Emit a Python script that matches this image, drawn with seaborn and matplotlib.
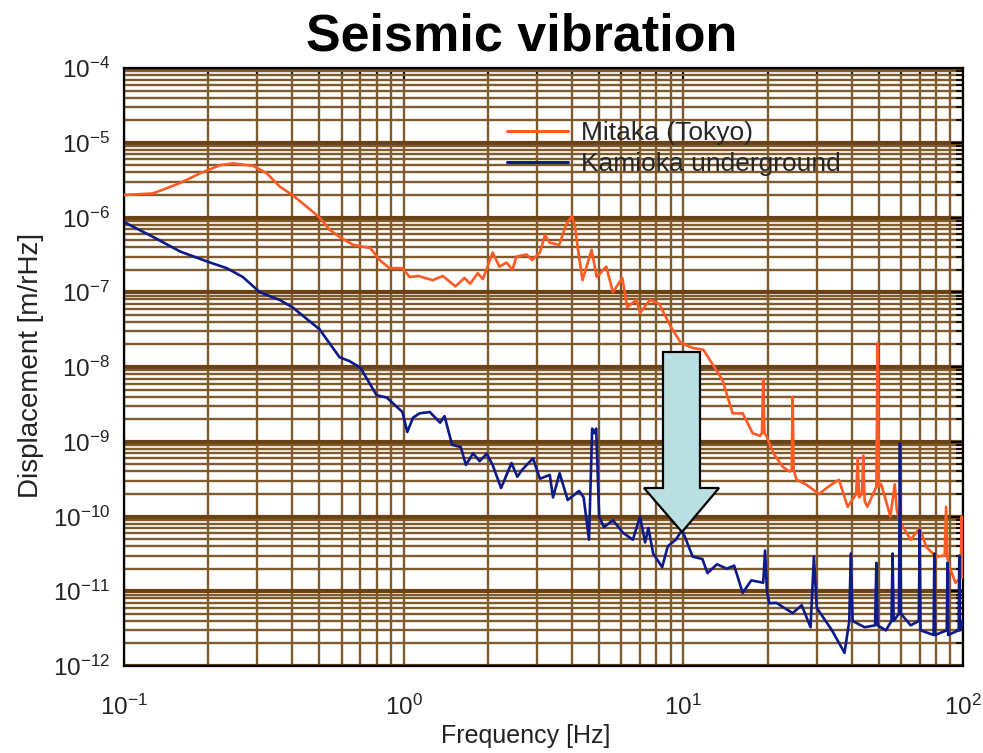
import numpy as np
import pandas as pd
import matplotlib
matplotlib.use("Agg")
import matplotlib.pyplot as plt
from matplotlib.ticker import LogLocator, NullFormatter, LogFormatterSciNotation, FixedLocator
from matplotlib.patches import Polygon
import seaborn as sns

# ---------------- data ----------------
mitaka_f = [0.1, 0.127, 0.159, 0.187, 0.22, 0.245, 0.29, 0.324, 0.36, 0.40,
            0.45, 0.50, 0.545, 0.59, 0.66, 0.76, 0.82, 0.89, 0.99, 1.05,
            1.13, 1.27, 1.38, 1.53, 1.65, 1.73, 1.84, 1.92, 2.08, 2.20,
            2.33, 2.45, 2.53, 2.75, 2.88, 3.07, 3.2, 3.33, 3.6, 3.8,
            4.0, 4.1, 4.2, 4.36, 4.7, 4.9, 5.3, 5.6, 6.05, 6.3,
            6.8, 7.0, 7.6, 8.2, 9.0, 9.8, 10.8, 11.8, 12.7, 13.8,
            15.0, 16.3, 17.7, 18.8, 19.1, 19.3, 19.5, 19.8, 21.0, 22.7,
            24.0, 24.4, 24.6, 24.8, 25.4, 27.4, 30.6, 32.5, 34.0, 36.0,
            38.7, 41.5, 42.0, 42.5, 43.5, 44.0, 44.5, 45.5, 49.0, 49.5,
            50.0, 51.0, 55.0, 57.0, 58.0, 59.5, 65.0, 70.0, 74.0, 80.0,
            86.0, 87.0, 88.0, 89.5, 94.0, 98.0, 99.0, 100.0]
mitaka_v = [2.0e-6, 2.1e-6, 2.9e-6, 3.9e-6, 5.0e-6, 5.3e-6, 4.9e-6, 3.9e-6, 2.6e-6, 2.0e-6,
            1.4e-6, 1.0e-6, 6.8e-7, 5.5e-7, 4.3e-7, 3.9e-7, 2.7e-7, 2.1e-7, 2.1e-7, 1.6e-7,
            1.65e-7, 1.45e-7, 1.65e-7, 1.2e-7, 1.55e-7, 1.3e-7, 1.8e-7, 1.5e-7, 3.4e-7, 2.2e-7,
            2.5e-7, 2.0e-7, 3.0e-7, 3.2e-7, 2.7e-7, 3.4e-7, 5.8e-7, 4.6e-7, 4.3e-7, 7.9e-7,
            1.05e-6, 7.5e-7, 3.7e-7, 1.45e-7, 3.7e-7, 1.6e-7, 2.2e-7, 1.0e-7, 1.55e-7, 6.3e-8,
            7.9e-8, 5.3e-8, 7.9e-8, 7.0e-8, 3.5e-8, 2.1e-8, 1.8e-8, 1.7e-8, 1.1e-8, 6.7e-9,
            2.4e-9, 2.4e-9, 1.3e-9, 1.2e-9, 1.3e-9, 6.9e-9, 1.3e-9, 1.2e-9, 7.0e-10, 4.6e-10,
            4.0e-10, 4.2e-10, 4.0e-9, 4.2e-10, 3.1e-10, 2.7e-10, 2.0e-10, 2.4e-10, 2.7e-10, 3.1e-10,
            1.35e-10, 2.0e-10, 6.0e-10, 1.8e-10, 2.0e-10, 6.5e-10, 1.6e-10, 1.35e-10, 2.5e-10, 2.1e-8,
            2.5e-10, 2.7e-10, 1.0e-10, 2.7e-10, 1.2e-10, 8.5e-11, 4.9e-11, 7.0e-11, 3.9e-11, 2.9e-11,
            3.0e-11, 1.35e-10, 2.8e-11, 2.1e-11, 1.3e-11, 1.5e-11, 1.0e-10, 1.5e-11]

kamioka_f = [0.1, 0.127, 0.159, 0.203, 0.233, 0.266, 0.306, 0.36, 0.40, 0.50,
             0.59, 0.64, 0.70, 0.80, 0.87, 0.99, 1.03, 1.08, 1.14, 1.24,
             1.35, 1.40, 1.49, 1.60, 1.67, 1.77, 1.87, 1.98, 2.08, 2.23,
             2.43, 2.55, 2.65, 2.90, 3.07, 3.33, 3.42, 3.61, 3.86, 4.24,
             4.40, 4.60, 4.72, 4.80, 4.88, 5.0, 5.2, 5.6, 6.1, 6.6,
             7.0, 7.3, 7.5, 7.8, 8.4, 8.8, 9.4, 9.9, 10.2, 10.8,
             11.7, 12.2, 13.2, 14.3, 15.2, 16.3, 17.5, 19.3, 19.6, 19.9,
             20.3, 21.5, 24.6, 26.5, 28.5, 29.3, 30.0, 34.0, 37.7, 39.2,
             39.7, 40.3, 44.5, 48.5, 49.0, 49.5, 53.0, 55.5, 56.0, 56.5,
             59.0, 59.5, 60.0, 65.0, 69.5, 70.0, 70.5, 78.5, 79.0, 79.5,
             87.5, 88.0, 88.5, 96.5, 97.0, 97.5, 100.0]
kamioka_v = [8.7e-7, 5.5e-7, 3.5e-7, 2.5e-7, 2.1e-7, 1.6e-7, 1.0e-7, 7.9e-8, 6.3e-8, 3.2e-8,
             1.35e-8, 1.2e-8, 9.8e-9, 4.2e-9, 3.9e-9, 2.5e-9, 1.35e-9, 2.1e-9, 2.4e-9, 2.5e-9,
             1.8e-9, 2.2e-9, 9.1e-10, 8.5e-10, 4.9e-10, 7.0e-10, 5.5e-10, 6.9e-10, 4.9e-10, 2.4e-10,
             5.2e-10, 3.4e-10, 4.2e-10, 6.0e-10, 3.2e-10, 3.6e-10, 1.8e-10, 3.8e-10, 1.66e-10, 2.2e-10,
             1.8e-10, 4.9e-11, 1.5e-9, 1.3e-9, 1.5e-9, 1.0e-10, 7.2e-11, 8.9e-11, 6.0e-11, 4.9e-11,
             1.0e-10, 4.5e-11, 7.0e-11, 3.2e-11, 2.1e-11, 4.0e-11, 4.9e-11, 6.6e-11, 5.0e-11, 2.9e-11,
             2.7e-11, 1.75e-11, 2.3e-11, 2.0e-11, 2.2e-11, 9.5e-12, 1.4e-11, 1.3e-11, 3.5e-11, 1.0e-11,
             6.9e-12, 7.0e-12, 5.1e-12, 6.5e-12, 3.3e-12, 2.9e-11, 6.0e-12, 3.0e-12, 1.5e-12, 4.0e-12,
             3.2e-11, 4.0e-12, 3.3e-12, 3.5e-12, 2.4e-11, 3.5e-12, 3.0e-12, 4.0e-12, 3.2e-11, 4.0e-12,
             5.0e-12, 9.6e-10, 5.0e-12, 3.5e-12, 4.0e-12, 6.6e-11, 3.0e-12, 2.6e-12, 3.2e-11, 2.6e-12,
             3.0e-12, 2.4e-11, 2.6e-12, 3.0e-12, 3.0e-11, 3.0e-12, 4.0e-12]

x_decades = [0.1, 1, 10, 100]
y_decades = [1e-12, 1e-11, 1e-10, 1e-9, 1e-8, 1e-7, 1e-6, 1e-5, 1e-4]

series_names = ["Mitaka (Tokyo)", "Kamioka underground"]
series_colors = ["#ff5a23", "#0d1a8a"]

title_text = "Seismic vibration"
x_label = "Frequency [Hz]"
y_label = "Displacement [m/rHz]"

# ---------------- style ----------------
sns.set_style("white")
plt.rcParams["font.family"] = ["Liberation Sans", "DejaVu Sans"]
plt.rcParams["mathtext.default"] = "regular"
plt.rcParams["axes.unicode_minus"] = False

df = pd.concat([
    pd.DataFrame({"freq": mitaka_f, "disp": mitaka_v, "site": series_names[0]}),
    pd.DataFrame({"freq": kamioka_f, "disp": kamioka_v, "site": series_names[1]}),
], ignore_index=True)

fig = plt.figure(figsize=(9.83, 7.53), dpi=100)
ax = fig.add_axes([124 / 983, 1 - 666 / 753, (963 - 124) / 983, (666 - 68) / 753])

sns.lineplot(data=df, x="freq", y="disp", hue="site", hue_order=series_names,
             palette=series_colors, estimator=None, sort=False, linewidth=1.9,
             ax=ax, legend=False, zorder=3)

ax.set_xscale("log")
ax.set_yscale("log")
ax.set_xlim(x_decades[0], x_decades[-1])
ax.set_ylim(y_decades[0], y_decades[-1])

# major ticks at decades, minor ticks at 2..9 inside each decade (only within range)
ax.xaxis.set_major_locator(FixedLocator(x_decades))
ax.yaxis.set_major_locator(FixedLocator(y_decades))
x_minor = [d * k for d in x_decades[:-1] for k in range(2, 10)]
y_minor = [d * k for d in y_decades[:-1] for k in range(2, 10)]
ax.xaxis.set_minor_locator(FixedLocator(x_minor))
ax.yaxis.set_minor_locator(FixedLocator(y_minor))
ax.xaxis.set_minor_formatter(NullFormatter())
ax.yaxis.set_minor_formatter(NullFormatter())
ax.xaxis.set_major_formatter(LogFormatterSciNotation())
ax.yaxis.set_major_formatter(LogFormatterSciNotation())

ax.set_axisbelow(True)
ax.xaxis.grid(True, which="both", color="#7f5a2c", linewidth=1.7)
ax.yaxis.grid(True, which="minor", color="#7f5a2c", linewidth=1.7)
ax.yaxis.grid(True, which="major", color="#6a4214", linewidth=3.0)

ax.tick_params(which="both", direction="in", top=True, right=True, colors="black")
ax.tick_params(which="major", length=9, width=1.4, labelsize=17.5)
ax.tick_params(which="minor", length=5, width=1.2)
ax.tick_params(axis="x", which="major", pad=21)
ax.tick_params(axis="y", which="major", pad=10)
for lbl in ax.get_xticklabels() + ax.get_yticklabels():
    lbl.set_color("#222222")
for s in ax.spines.values():
    s.set_color("black")
    s.set_linewidth(1.6)
    s.set_visible(True)

ax.set_xlabel(x_label, fontsize=18, color="#222222")
ax.set_ylabel(y_label, fontsize=20, color="#222222")
ax.xaxis.set_label_coords((526 - 124) / 839, (666 - 724) / 598)
ax.yaxis.set_label_coords((44 - 124) / 839, (666 - 365) / 598)

fig.text(522 / 983, 1 - 37 / 753, title_text, ha="center", va="center",
         fontsize=37.5, fontweight="bold", color="black")

# legend
handles = [plt.Line2D([], [], color=c, linewidth=2.2) for c in series_colors]
ax.legend(handles, series_names, loc="upper left",
          bbox_to_anchor=((507 - 124) / 839, (666 - 121) / 598),
          frameon=False, fontsize=19, handlelength=2.3, handletextpad=0.5,
          borderpad=0, borderaxespad=0, labelspacing=0.28)

# annotation arrow (light blue, pointing down at 10 Hz)
ax_pts = lambda px, py: ((px - 124) / 839, (666 - py) / 598)
arrow_px = [(663, 352), (700, 352), (700, 488), (719, 488), (682, 532),
            (644, 488), (663, 488)]
arrow = Polygon([ax_pts(*p) for p in arrow_px], closed=True, transform=ax.transAxes,
                facecolor="#b9dfe0", edgecolor="black", linewidth=1.6, zorder=5)
ax.add_patch(arrow)

fig.savefig("out.png", dpi=100)
